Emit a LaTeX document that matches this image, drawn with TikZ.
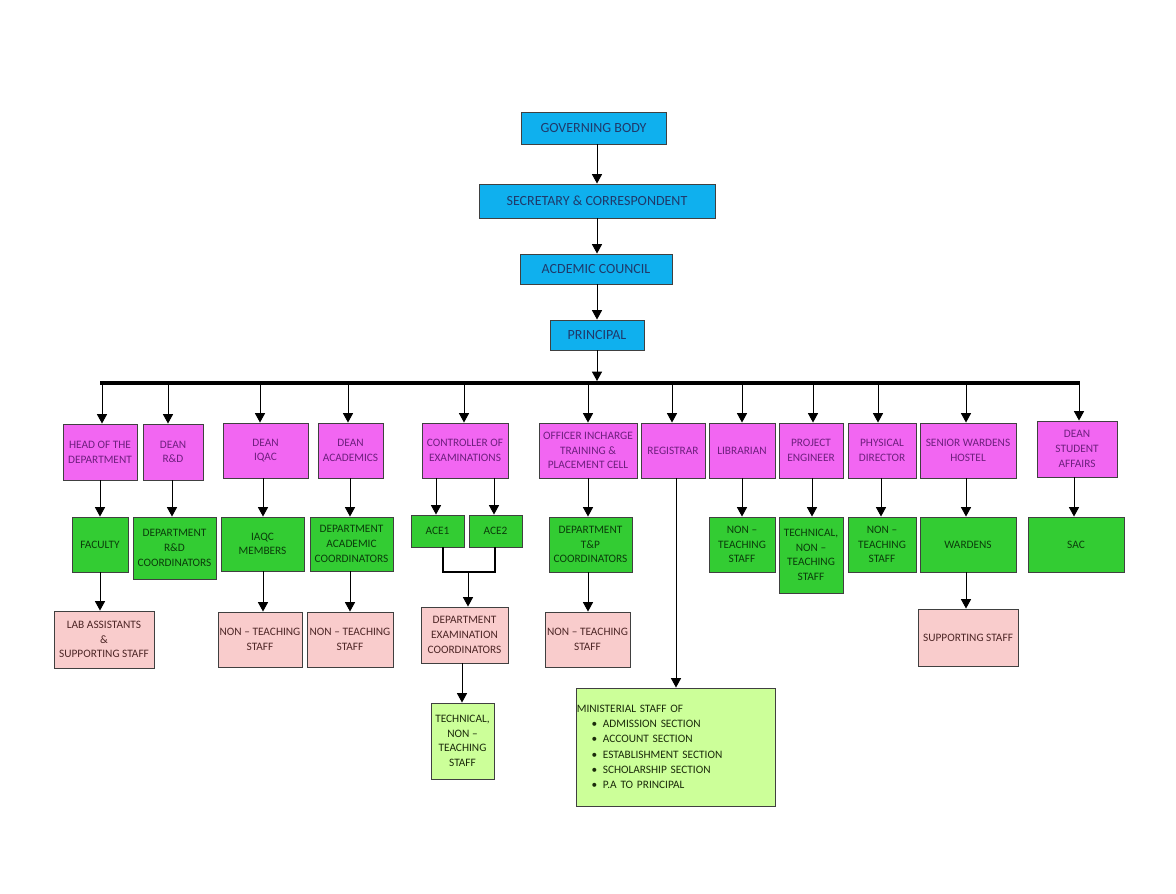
\documentclass[tikz,border=0pt]{standalone}
\usepackage{fontspec}
\setmainfont{Carlito}
\usetikzlibrary{arrows.meta,calc}
\definecolor{bluefill}{HTML}{0FB0EE}
\definecolor{bluetext}{HTML}{1F3A6B}
\definecolor{magfill}{HTML}{F266F2}
\definecolor{magtext}{HTML}{6E1F7E}
\definecolor{grnfill}{HTML}{33CC33}
\definecolor{grntext}{HTML}{0B3D0B}
\definecolor{pnkfill}{HTML}{F9CCCC}
\definecolor{pnktext}{HTML}{4D2626}
\definecolor{lgrfill}{HTML}{CCFF99}
\definecolor{lgrtext}{HTML}{1B2B0B}
\newcommand{\orgbox}[7]{%
  \pgfmathsetmacro\obw{(#4-#2)*0.75}%
  \pgfmathsetmacro\obh{(#5-#3)*0.75}%
  \node[#6,minimum width=\obw pt,minimum height=\obh pt] (#1) at ({(#2+#4)/2},{(#3+#5)/2}) {#7};}
\begin{document}
\begin{tikzpicture}[x=0.75pt,y=-0.75pt,
  base/.style={draw=black!75, line width=0.7pt, inner sep=0pt, align=center,
    font=\fontsize{8.5}{11}\selectfont},
  bluebox/.style={base, fill=bluefill, text=bluetext, font=\fontsize{10.5}{13}\selectfont},
  magbox/.style={base, fill=magfill, text=magtext},
  grnbox/.style={base, fill=grnfill, text=grntext},
  pnkbox/.style={base, fill=pnkfill, text=pnktext},
  lgrbox/.style={base, fill=lgrfill, text=lgrtext},
  arr/.style={-{Triangle[width=7.5pt,length=7pt]}, line width=0.75pt, black},
  link/.style={line width=1pt, black}]
\useasboundingbox (0,0) rectangle (1176,893);
\fill[white] (0,0) rectangle (1176,893);

% top chain
\orgbox{gov}{521}{112}{666}{144}{bluebox}{GOVERNING BODY}
\orgbox{sec}{479}{184}{715}{218}{bluebox}{SECRETARY \& CORRESPONDENT}
\orgbox{acd}{520}{254}{672}{284}{bluebox}{ACDEMIC COUNCIL}
\orgbox{pr}{550}{320}{644}{350}{bluebox}{PRINCIPAL}

\draw[arr] (597,0 |- gov.south) -- (597,0 |- sec.north);
\draw[arr] (597,0 |- sec.south) -- (597,0 |- acd.north);
\draw[arr] (597,0 |- acd.south) -- (597,0 |- pr.north);

% bus
\coordinate (busL) at (100,383);
\coordinate (busR) at (1080,383);
\draw[line width=2.3pt] (busL) -- (busR);
\draw[arr] (597,0 |- pr.south) -- (597,381);

% second row (magenta)
\orgbox{hod}{63}{424}{137}{480}{magbox}{HEAD OF THE\\DEPARTMENT}
\orgbox{rd}{143}{424}{203}{480}{magbox}{DEAN\\R\&D}
\orgbox{iqac}{223}{423}{308}{478}{magbox}{DEAN\\IQAC}
\orgbox{acad}{318}{423}{383}{478}{magbox}{DEAN\\ACADEMICS}
\orgbox{coe}{422}{423}{508}{478}{magbox}{CONTROLLER OF\\EXAMINATIONS}
\orgbox{tpo}{539}{423}{637}{478}{magbox}{OFFICER INCHARGE\\TRAINING \&\\PLACEMENT CELL}
\orgbox{reg}{641}{423}{705}{478}{magbox}{REGISTRAR}
\orgbox{lib}{709}{423}{775}{478}{magbox}{LIBRARIAN}
\orgbox{pe}{779}{423}{843}{478}{magbox}{PROJECT\\ENGINEER}
\orgbox{pd}{848}{423}{916}{478}{magbox}{PHYSICAL\\DIRECTOR}
\orgbox{sw}{920}{423}{1016}{478}{magbox}{SENIOR WARDENS\\HOSTEL}
\orgbox{dsa}{1037}{421}{1117}{477}{magbox}{DEAN\\STUDENT\\AFFAIRS}

\foreach \xx/\nn in {102/hod,168/rd,260/iqac,348/acad,464/coe,588/tpo,672/reg,742/lib,813/pe,878/pd,966/sw,1079/dsa}
  \draw[arr] (\xx,383) -- (\xx,0 |- \nn.north);

% third row (green)
\orgbox{fac}{72}{517}{128}{572}{grnbox}{FACULTY}
\orgbox{rdc}{133}{517}{216}{579}{grnbox}{DEPARTMENT\\R\&D\\COORDINATORS}
\orgbox{iaqc}{221}{517}{304}{571}{grnbox}{IAQC\\MEMBERS}
\orgbox{adc}{310}{517}{393}{571}{grnbox}{DEPARTMENT\\ACADEMIC\\COORDINATORS}
\orgbox{ace1}{411}{515}{464}{547}{grnbox}{ACE1}
\orgbox{ace2}{469}{515}{522}{547}{grnbox}{ACE2}
\orgbox{tpc}{549}{517}{632}{572}{grnbox}{DEPARTMENT\\T\&P\\COORDINATORS}
\orgbox{libs}{709}{517}{775}{572}{grnbox}{NON –\\TEACHING\\STAFF}
\orgbox{pes}{779}{517}{843}{593}{grnbox}{TECHNICAL,\\NON –\\TEACHING\\STAFF}
\orgbox{pds}{848}{517}{916}{572}{grnbox}{NON –\\TEACHING\\STAFF}
\orgbox{war}{920}{517}{1016}{572}{grnbox}{WARDENS}
\orgbox{sac}{1028}{517}{1124}{572}{grnbox}{SAC}

\foreach \xx/\aa/\bb in {100/hod/fac,172/rd/rdc,263/iqac/iaqc,350/acad/adc,436/coe/ace1,494/coe/ace2,588/tpo/tpc,742/lib/libs,812/pe/pes,881/pd/pds,966/sw/war,1074/dsa/sac}
  \draw[arr] (\xx,0 |- \aa.south) -- (\xx,0 |- \bb.north);

% fourth row (pink)
\orgbox{lab}{54}{611}{154}{668}{pnkbox}{LAB ASSISTANTS\\\&\\SUPPORTING STAFF}
\orgbox{nt1}{218}{612}{302}{667}{pnkbox}{NON – TEACHING\\STAFF}
\orgbox{nt2}{307}{612}{393}{667}{pnkbox}{NON – TEACHING\\STAFF}
\orgbox{dec}{421}{607}{508}{663}{pnkbox}{DEPARTMENT\\EXAMINATION\\COORDINATORS}
\orgbox{nt3}{545}{612}{630}{667}{pnkbox}{NON – TEACHING\\STAFF}
\orgbox{sup}{918}{609}{1018}{666}{pnkbox}{SUPPORTING STAFF}

\foreach \xx/\aa/\bb in {100/fac/lab,263/iaqc/nt1,350/adc/nt2,588/tpc/nt3,966/war/sup}
  \draw[arr] (\xx,0 |- \aa.south) -- (\xx,0 |- \bb.north);

% ACE join
\coordinate (join) at (468,572);
\draw[link] (443,0 |- ace1.south) -- (443,572) -- (495,572) -- (495,0 |- ace2.south);
\draw[arr] (join) -- (468,0 |- dec.north);

% bottom (light green)
\orgbox{tech}{431}{703}{494}{779}{lgrbox}{TECHNICAL,\\NON –\\TEACHING\\STAFF}
\draw[arr] (462,0 |- dec.south) -- (462,0 |- tech.north);

\orgbox{min}{576}{688}{775}{806}{lgrbox, align=left, inner xsep=0.5pt, text width=148pt,
  font=\fontsize{8.5}{11.5}\selectfont}{MINISTERIAL STAFF OF\\
  \hspace*{11pt}\makebox[8.5pt][l]{\textbullet}ADMISSION SECTION\\
  \hspace*{11pt}\makebox[8.5pt][l]{\textbullet}ACCOUNT SECTION\\
  \hspace*{11pt}\makebox[8.5pt][l]{\textbullet}ESTABLISHMENT SECTION\\
  \hspace*{11pt}\makebox[8.5pt][l]{\textbullet}SCHOLARSHIP SECTION\\
  \hspace*{11pt}\makebox[8.5pt][l]{\textbullet}P.A TO PRINCIPAL}
\draw[arr] (676,0 |- reg.south) -- (676,0 |- min.north);
\end{tikzpicture}
\end{document}
